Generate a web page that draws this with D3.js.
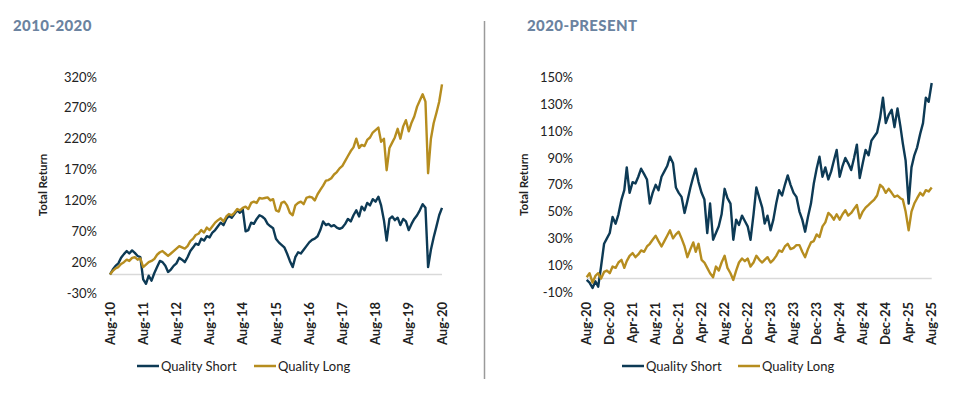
<!DOCTYPE html>
<html>
<head>
<meta charset="utf-8">
<script src="https://cdn.jsdelivr.net/npm/d3@7"></script>
<style>
  body { margin: 0; background: #fff; }
  svg { display: block; font-family: Lato, "Open Sans", sans-serif; }
</style>
</head>
<body>
<svg width="968" height="395"></svg>
<script>
const svg = d3.select("svg");

const seriesNames = ["Quality Short", "Quality Long"];
const colors = ["#0d3a55", "#b68d1f"];

// 2010-2020, monthly from Aug-10
const shortA = [0, 8, 14, 18, 27, 33, 38, 34, 39, 35, 30, 28,
  -8, -15, -2, -10, 2, 12, 22, 20, 14, 4, 8, 14,
  18, 27, 24, 20, 28, 38, 44, 50, 48, 58, 55, 62,
  60, 68, 72, 78, 84, 80, 90, 95, 92, 98, 104, 100,
  105, 70, 72, 84, 82, 90, 96, 94, 90, 82, 78, 75,
  58, 52, 48, 44, 34, 22, 12, 28, 36, 34, 40, 46,
  52, 56, 58, 62, 72, 86, 80, 82, 78, 80, 76, 74,
  76, 82, 90, 86, 96, 104, 94, 110, 104, 116, 112, 122,
  118, 126, 112, 88, 55, 90, 94, 88, 92, 80, 90, 86,
  72, 82, 90, 96, 104, 114, 108, 12, 40, 60, 78, 96,
  108];
const longA = [0, 6, 10, 12, 17, 20, 24, 22, 27, 28, 24, 26,
  12, 16, 20, 22, 25, 32, 36, 38, 34, 30, 34, 38,
  42, 46, 44, 42, 46, 54, 58, 64, 66, 72, 68, 76,
  72, 78, 84, 88, 91, 86, 94, 98, 96, 100, 106, 104,
  108, 110, 106, 116, 118, 116, 124, 123, 124, 125, 120, 122,
  104, 102, 116, 118, 112, 100, 96, 112, 116, 118, 114, 124,
  126, 125, 120, 130, 137, 144, 152, 153, 156, 162, 166, 172,
  176, 184, 192, 200, 206, 220, 205, 210, 208, 218, 222, 230,
  234, 238, 215, 220, 169, 205, 214, 222, 236, 220, 240, 250,
  232, 246, 256, 272, 282, 292, 280, 164, 220, 245, 262, 280,
  308];

// 2020-present, twice a month from Aug-20
const shortB = [-1, -3, -7, -2, -6, 9, 26, 30, 34, 46, 41, 48,
  59, 66, 83, 64, 72, 71, 76, 82, 78, 74, 56, 64,
  70, 66, 76, 80, 84, 91, 86, 68, 64, 61, 49, 58,
  68, 76, 82, 72, 64, 59, 34, 56, 29, 34, 39, 48,
  67, 60, 56, 29, 44, 40, 47, 43, 39, 29, 48, 68,
  60, 53, 41, 47, 36, 44, 56, 66, 62, 70, 77, 70,
  64, 61, 50, 44, 35, 46, 56, 71, 82, 91, 76, 83,
  74, 80, 88, 96, 76, 84, 90, 86, 81, 90, 100, 75,
  86, 96, 92, 103, 106, 109, 120, 135, 116, 122, 126, 113,
  127, 114, 101, 88, 56, 83, 92, 98, 108, 116, 135, 132,
  146];
const longB = [1, 4, -3, 2, 4, 0, 5, 6, 4, 9, 8, 12,
  14, 8, 13, 17, 19, 16, 18, 21, 20, 24, 26, 29,
  32, 28, 24, 28, 32, 36, 30, 33, 35, 30, 24, 16,
  22, 27, 20, 26, 14, 12, 8, 4, 1, 9, 6, 12,
  17, 8, 4, -1, 6, 12, 15, 13, 15, 9, 12, 17,
  14, 12, 14, 16, 12, 14, 17, 21, 20, 24, 26, 22,
  23, 25, 25, 20, 16, 22, 27, 28, 33, 31, 39, 42,
  49, 47, 44, 48, 44, 48, 51, 47, 49, 52, 55, 45,
  50, 53, 55, 57, 59, 62, 70, 68, 64, 67, 64, 61,
  62, 60, 59, 50, 36, 50, 56, 60, 64, 62, 66, 65,
  68];

const ticksA = [-30, 20, 70, 120, 170, 220, 270, 320];
const ticksB = [-10, 10, 30, 50, 70, 90, 110, 130, 150];

const datesA = shortA.map((_, i) => d3.timeMonth.offset(new Date(2010, 7, 1), i));
const datesB = shortB.map((_, i) => {
  const d = d3.timeMonth.offset(new Date(2020, 7, 1), Math.floor(i / 2));
  if (i % 2) d.setDate(16);
  return d;
});
const xTicksA = d3.range(11).map(i => new Date(2010 + i, 7, 1));
const xTicksB = d3.range(16).map(i => d3.timeMonth.offset(new Date(2020, 7, 1), i * 4));

const fmt = d3.timeFormat("%b-%y");

function panel(cfg) {
  const g = svg.append("g");
  const x = d3.scaleTime().domain(cfg.xDomain).range(cfg.xRange);
  const y = d3.scaleLinear().domain(cfg.yDomain).range(cfg.yRange);

  g.append("text")
    .attr("x", cfg.titleX).attr("y", 31)
    .attr("fill", "#6b83a0")
    .attr("font-size", 15).attr("font-weight", 900)
    .attr("letter-spacing", 0.4)
    .text(cfg.title);

  // y labels
  g.append("g").selectAll("text")
    .data(cfg.yTicks)
    .join("text")
    .attr("x", cfg.yLabelX)
    .attr("y", d => y(d))
    .attr("dy", "0.35em")
    .attr("text-anchor", "end")
    .attr("font-size", 13)
    .attr("fill", "#222")
    .text(d => d + "%");

  g.append("text")
    .attr("transform", `translate(${cfg.titleYX},${(cfg.yRange[0] + cfg.yRange[1]) / 2}) rotate(-90)`)
    .attr("text-anchor", "middle")
    .attr("font-size", 11.5).attr("font-weight", 700)
    .attr("fill", "#222")
    .text("Total Return");

  // zero line
  g.append("line")
    .attr("x1", cfg.xRange[0]).attr("x2", cfg.xRange[1])
    .attr("y1", y(0)).attr("y2", y(0))
    .attr("stroke", "#d9d9d9").attr("stroke-width", 1.5);

  // x labels
  g.append("g").selectAll("text")
    .data(cfg.xTicks)
    .join("text")
    .attr("transform", d => `translate(${x(d)},302) rotate(-90)`)
    .attr("dy", "0.35em")
    .attr("text-anchor", "end")
    .attr("font-size", 13).attr("font-weight", 700)
    .attr("fill", "#222")
    .text(fmt);

  const line = d3.line()
    .x((d, i) => x(cfg.dates[i]))
    .y(d => y(d));

  cfg.series.forEach((s, k) => {
    g.append("path")
      .datum(s)
      .attr("fill", "none")
      .attr("stroke", colors[k])
      .attr("stroke-width", 2.4)
      .attr("stroke-linejoin", "round")
      .attr("d", line);
  });

  // legend
  const lg = g.append("g");
  cfg.legendX.forEach((lx, k) => {
    lg.append("line")
      .attr("x1", lx).attr("x2", lx + 22)
      .attr("y1", 366).attr("y2", 366)
      .attr("stroke", colors[k]).attr("stroke-width", 2.5);
    lg.append("text")
      .attr("x", lx + 24).attr("y", 366)
      .attr("dy", "0.35em")
      .attr("font-size", 13)
      .attr("fill", "#222")
      .text(seriesNames[k]);
  });
}

panel({
  title: "2010-2020", titleX: 13, titleYX: 47,
  xDomain: [new Date(2010, 7, 1), new Date(2020, 7, 1)], xRange: [110, 442],
  yDomain: [-30, 320], yRange: [293, 77], yTicks: ticksA, yLabelX: 97,
  xTicks: xTicksA, dates: datesA, series: [shortA, longA],
  legendX: [137, 254]
});

panel({
  title: "2020-PRESENT", titleX: 527, titleYX: 528,
  xDomain: [new Date(2020, 7, 1), new Date(2025, 7, 1)], xRange: [586.7, 931.7],
  yDomain: [-10, 150], yRange: [292, 77.6], yTicks: ticksB, yLabelX: 573,
  xTicks: xTicksB, dates: datesB, series: [shortB, longB],
  legendX: [622, 738]
});

// divider
svg.append("line")
  .attr("x1", 484.5).attr("x2", 484.5)
  .attr("y1", 21).attr("y2", 379)
  .attr("stroke", "#9a9a9a").attr("stroke-width", 1.5);
</script>
</body>
</html>
